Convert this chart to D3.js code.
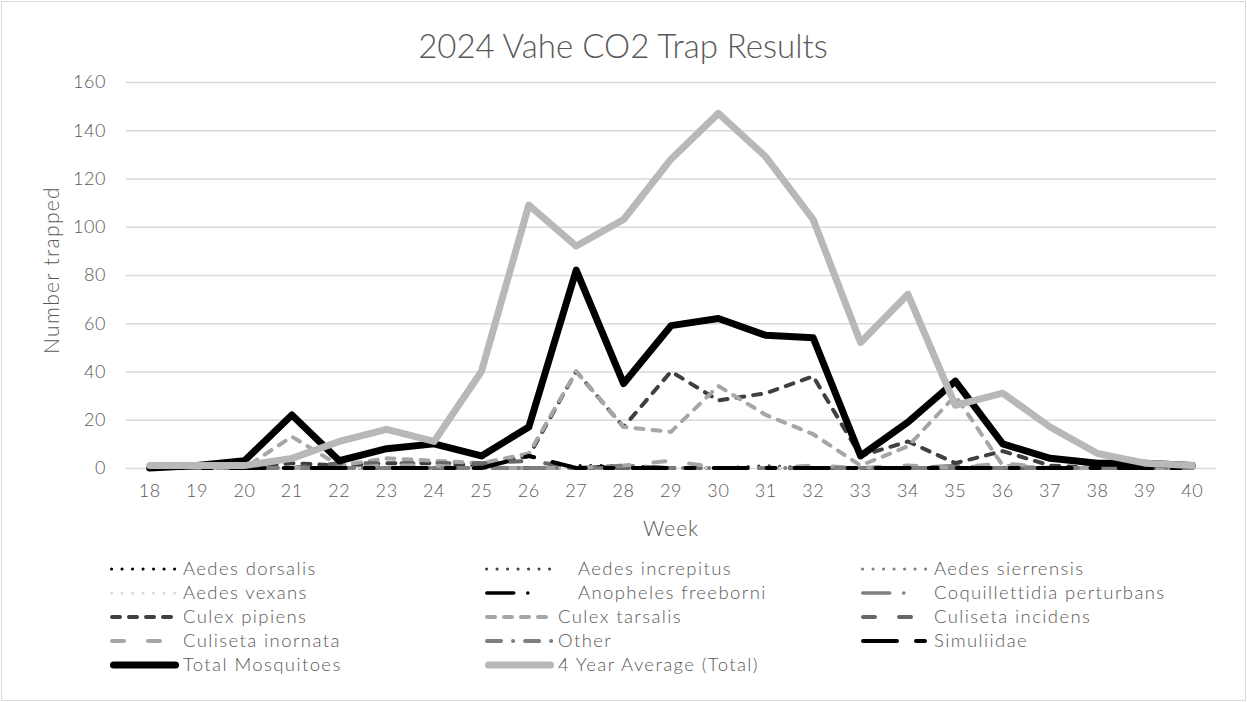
<!DOCTYPE html>
<html>
<head>
<meta charset="utf-8">
<script src="https://cdn.jsdelivr.net/npm/d3@7"></script>
<style>
  body { margin: 0; background: #fff; }
  text { font-family: Lato, "Open Sans", sans-serif; font-weight: 300; fill: #595959; }
</style>
</head>
<body>
<div id="my_dataviz"></div>
<script>
// chart data
var weeks = [18,19,20,21,22,23,24,25,26,27,28,29,30,31,32,33,34,35,36,37,38,39,40];
var yTicks = [0,20,40,60,80,100,120,140,160];

var aedesDorsalis    = [0,0,0,0,0,0,0,0,0,1,1,0,0,0,0,0,0,0,0,0,0,0,0];
var aedesIncrepitus  = [0,0,0,0,0,0,0,0,0,0,0,0,0,1,0,0,0,0,0,0,0,0,0];
var aedesSierrensis  = [0,0,0,0,0,0,0,0,0,0,0,0,0,0,0,0,0,0,0,0,0,0,0];
var aedesVexans      = [0,0,0,0,0,0,0,0,0,0,0,0,0,0,0,0,0,0,0,0,0,0,0];
var anophelesFreeborni = [0,0,0,0,0,0,0,0,0,0,1,0,0,0,0,0,0,0,0,0,0,0,0];
var coquillettidia   = [0,0,0,0,0,0,0,0,0,0,0,0,0,0,0,0,0,1,0,0,0,0,0];
var culexPipiens     = [0,0,0,2,1,2,2,1,5,40,17,40,28,31,38,5,11,2,7,1,0,0,0];
var culexTarsalis    = [0,0,0,13,1,4,3,2,6,40,17,15,34,22,14,1,9,30,1,0,0,0,0];
var culisetaIncidens = [0,0,0,0,2,2,2,2,3,0,0,0,0,0,0,0,0,0,0,0,0,0,0];
var culisetaInornata = [0,0,0,0,0,1,1,0,0,0,1,3,0,0,1,0,1,0,2,0,0,0,0];
var other            = [0,0,0,0,0,0,0,0,0,0,1,0,0,0,0,0,0,0,0,0,0,0,0];
var simuliidae       = [0,0,0,0,0,0,0,0,5,0,0,0,0,0,0,0,0,0,0,0,0,0,0];
var totalMosquitoes  = [0,1,3,22,3,8,10,5,17,82,35,59,62,55,54,5,19,36,10,4,2,2,1];
var fourYearAverage  = [1,1,1,4,11,16,11,40,109,92,103,128,147,129,103,52,72,26,31,17,6,2,1];

var seriesNames = ["Aedes dorsalis","Aedes increpitus","Aedes sierrensis","Aedes vexans",
  "Anopheles freeborni","Coquillettidia perturbans","Culex pipiens","Culex tarsalis",
  "Culiseta incidens","Culiseta inornata","Other","Simuliidae","Total Mosquitoes","4 Year Average (Total)"];
var seriesValues = [aedesDorsalis, aedesIncrepitus, aedesSierrensis, aedesVexans,
  anophelesFreeborni, coquillettidia, culexPipiens, culexTarsalis,
  culisetaIncidens, culisetaInornata, other, simuliidae, totalMosquitoes, fourYearAverage];

// line styles, same order as the series
var styles = [
  {color: "#000000", width: 3, dash: "0.1,10.4"},
  {color: "#404040", width: 3, dash: "0.1,10.4"},
  {color: "#808080", width: 3, dash: "0.1,10.4"},
  {color: "#d9d9d9", width: 3, dash: "0.1,10.4"},
  {color: "#000000", width: 3.5, dash: "27,14,0.1,30"},
  {color: "#7f7f7f", width: 3.5, dash: "27,14,0.1,30"},
  {color: "#404040", width: 4, dash: "8,9"},
  {color: "#a6a6a6", width: 4, dash: "8,9"},
  {color: "#666666", width: 4, dash: "12,24"},
  {color: "#a6a6a6", width: 4, dash: "12,24"},
  {color: "#7f7f7f", width: 4, dash: "14,12,0.1,12"},
  {color: "#000000", width: 4, dash: "34,19,9,19"},
  {color: "#000000", width: 7, dash: null},
  {color: "#b8b8b8", width: 7, dash: null}
];

var width = 1247, height = 702;
var plot = {left: 126, right: 1216, top: 82, bottom: 468};

var svg = d3.select("#my_dataviz")
  .append("svg")
  .attr("width", width)
  .attr("height", height);

// chart area border
svg.append("rect")
  .attr("x", 1.5).attr("y", 1.5)
  .attr("width", width - 3).attr("height", height - 3)
  .attr("fill", "#fff")
  .attr("stroke", "#d9d9d9");

var x = d3.scaleBand()
  .domain(weeks)
  .range([plot.left, plot.right]);

var y = d3.scaleLinear()
  .domain([0, 160])
  .range([plot.bottom, plot.top]);

// gridlines + y labels
var yAxis = d3.axisLeft(y)
  .tickValues(yTicks)
  .tickSize(-(plot.right - plot.left))
  .tickPadding(20);

var gy = svg.append("g")
  .attr("transform", "translate(" + plot.left + ",0)")
  .call(yAxis);
gy.select(".domain").remove();
gy.selectAll(".tick line").attr("stroke", "#d9d9d9").attr("stroke-width", 1.3);
gy.selectAll(".tick text")
  .style("font-size", "18px")
  .style("letter-spacing", "0.6px")
  .attr("fill", "#595959");

// week labels
var xAxis = d3.axisBottom(x).tickSize(0).tickPadding(16);
var gx = svg.append("g")
  .attr("transform", "translate(0," + plot.bottom + ")")
  .call(xAxis);
gx.select(".domain").remove();
gx.selectAll(".tick text")
  .style("font-size", "18px")
  .style("letter-spacing", "0.6px")
  .attr("fill", "#595959");

// lines
var line = d3.line()
  .x(function(d, i) { return x(weeks[i]) + x.bandwidth() / 2; })
  .y(function(d) { return y(d); });

seriesValues.forEach(function(vals, k) {
  var s = styles[k];
  svg.append("path")
    .datum(vals)
    .attr("d", line)
    .attr("fill", "none")
    .attr("stroke", s.color)
    .attr("stroke-width", s.width)
    .attr("stroke-linejoin", "round")
    .attr("stroke-linecap", "round")
    .attr("stroke-dasharray", s.dash);
});

// titles
svg.append("text")
  .attr("x", 623).attr("y", 58)
  .attr("text-anchor", "middle")
  .style("font-size", "33px")
  .text("2024 Vahe CO2 Trap Results");

svg.append("text")
  .attr("transform", "translate(59,270) rotate(-90)")
  .attr("text-anchor", "middle")
  .style("font-size", "21px")
  .style("letter-spacing", "1.3px")
  .text("Number trapped");

svg.append("text")
  .attr("x", 671).attr("y", 536)
  .attr("text-anchor", "middle")
  .style("font-size", "21px")
  .style("letter-spacing", "1px")
  .text("Week");

// legend, 3 columns
var legendCols = [110, 485, 861];
var keyLen = 69;
var legend = svg.append("g")
  .selectAll("g")
  .data(seriesNames)
  .enter()
  .append("g")
  .attr("transform", function(d, i) {
    return "translate(" + legendCols[i % 3] + "," + (569 + Math.floor(i / 3) * 24) + ")";
  });

legend.append("line")
  .attr("x1", function(d, i) { return styles[i].width / 2; })
  .attr("x2", function(d, i) { return keyLen - styles[i].width / 2; })
  .attr("stroke", function(d, i) { return styles[i].color; })
  .attr("stroke-width", function(d, i) { return styles[i].width; })
  .attr("stroke-linecap", "round")
  .attr("stroke-dasharray", function(d, i) { return styles[i].dash; });

legend.append("text")
  .attr("x", function(d) { return (d == "Aedes increpitus" || d == "Anopheles freeborni") ? keyLen + 24 : keyLen + 4; })
  .attr("dy", "0.35em")
  .style("font-size", "18.5px")
  .style("letter-spacing", "1.4px")
  .text(function(d) { return d; });
</script>
</body>
</html>
